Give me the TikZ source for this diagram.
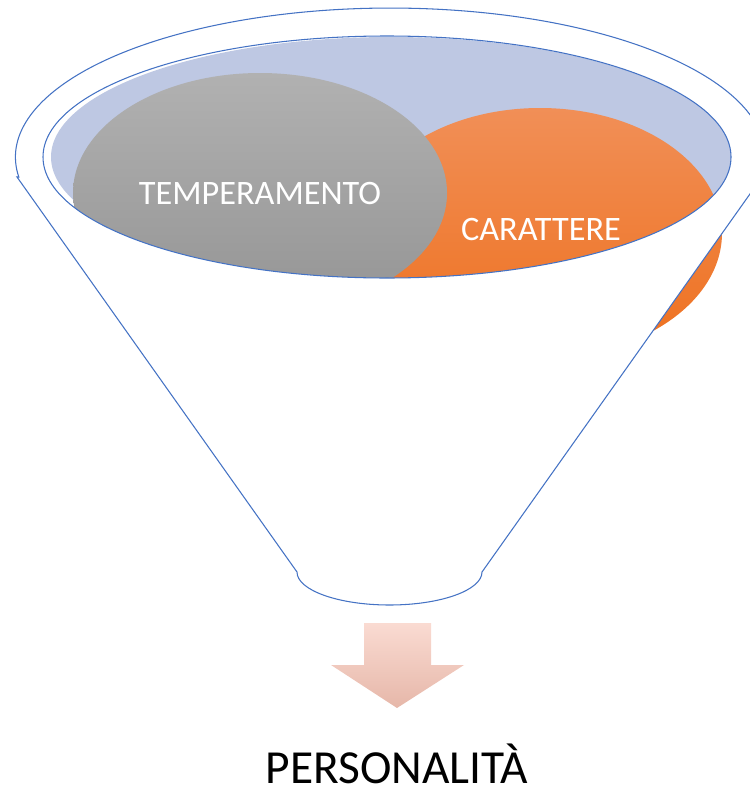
\documentclass[tikz,border=0pt]{standalone}
\usepackage{fontspec}
\setmainfont{Carlito}
\definecolor{rimblue}{RGB}{68,114,196}
\definecolor{waterblue}{RGB}{190,200,227}

\begin{document}
\begin{tikzpicture}[x=0.02cm,y=0.02cm,
   rim/.style={draw=rimblue,line width=0.6pt},
   intext/.style={text=white,font=\fontsize{19.5}{19.5}\selectfont},
   outtext/.style={text=black,inner sep=0pt,font=\fontsize{27}{27}\selectfont}]
   \clip (0,0) rectangle (750,-791);

   \fill[waterblue] (391,-157) ellipse [x radius=340, y radius=120];
   \shade[top color={rgb,255:red,241;green,143;blue,87},
          bottom color={rgb,255:red,238;green,112;blue,30}]
     (540,-233) ellipse [x radius=182, y radius=125];
   \shade[top color={rgb,255:red,177;green,177;blue,177},
          bottom color={rgb,255:red,148;green,148;blue,148}]
     (260,-193) ellipse [x radius=187, y radius=120];

   \fill[white,even odd rule]
     (17,-177) -- (297,-572) arc [start angle=180, end angle=360, x radius=92.5, y radius=33]
     -- (762,-177) arc [start angle=-7.7, end angle=187.7, x radius=375, y radius=149] -- cycle
     (387,-157) ellipse [x radius=344, y radius=121];
   \draw[rim] (17,-177) -- (297,-572) arc [start angle=180, end angle=360, x radius=92.5, y radius=33]
     -- (762,-177) arc [start angle=-7.7, end angle=187.7, x radius=375, y radius=149] -- cycle;
   \draw[rim] (387,-157) ellipse [x radius=344, y radius=121];

   \path (260,-193) node[intext] (temp) {TEMPERAMENTO};
   \path (541,-229) node[intext] (car) {CARATTERE};

   \shade[top color={rgb,255:red,250;green,219;blue,210},
          bottom color={rgb,255:red,230;green,183;blue,169}]
     (364,-623) -- (431,-623) -- (431,-665) -- (464,-665) -- (397,-708)
     -- (331,-665) -- (364,-665) -- cycle;
   \path (397,-783) node[outtext,anchor=base] (pers) {PERSONALITÀ};
\end{tikzpicture}
\end{document}
